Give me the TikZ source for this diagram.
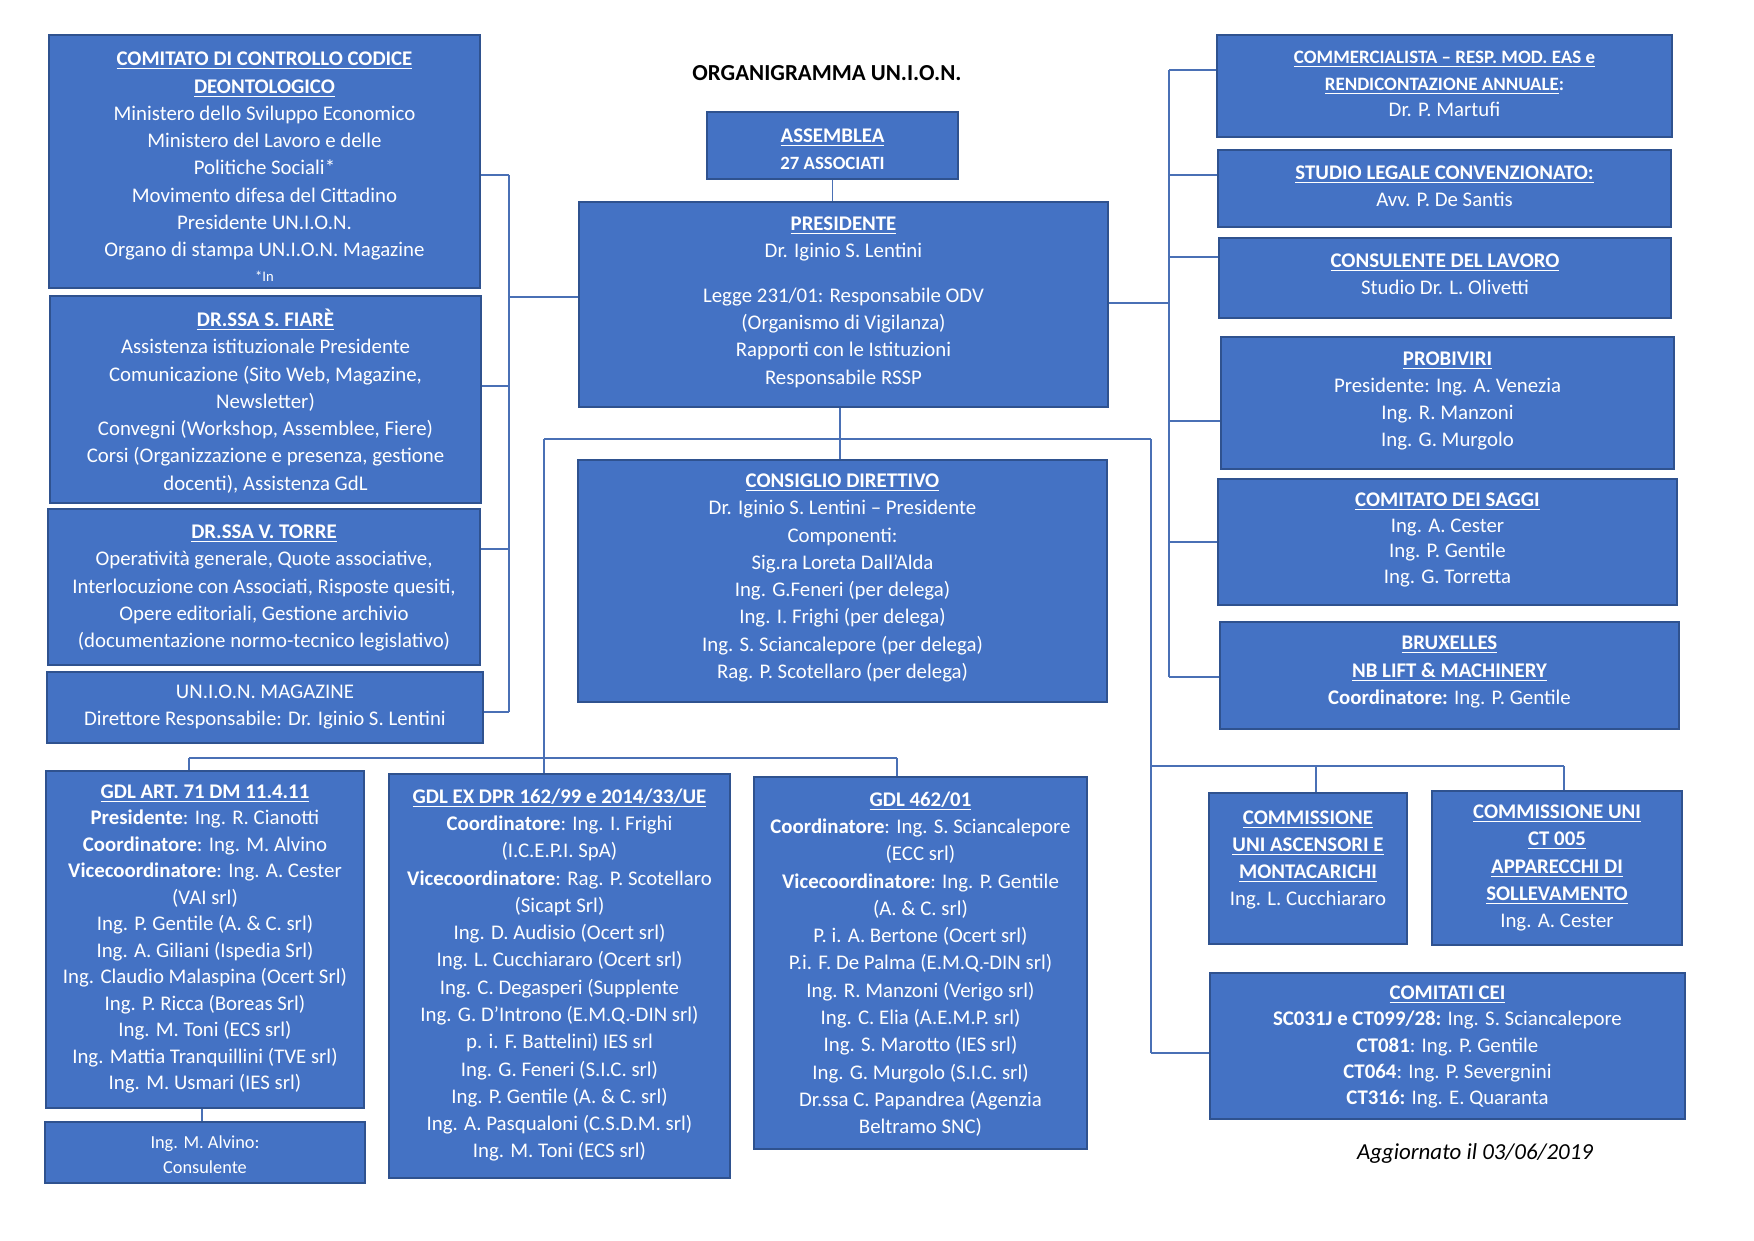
\documentclass[tikz,border=0pt]{standalone}
\usepackage{fontspec}
\setmainfont{Carlito}
\usetikzlibrary{fit}
\definecolor{boxblue}{HTML}{4472C4}
\definecolor{boxborder}{HTML}{2F528F}
\definecolor{connblue}{HTML}{4A70B5}
\newcommand\ulh[1]{\underline{\raisebox{0pt}[\height][0pt]{\bfseries #1}}}
\newcommand\orgbox[8][]{%
  \node[orgrect, fit={(#3,#4) (#5,#6)}] (#2) {};
  \node[orgtxt,#1] (#2-t) at ({(#3+#5)/2},#7) {#8};}
\tikzset{
  orgrect/.style={draw=boxborder, line width=1pt, fill=boxblue, inner sep=0pt},
  orgtxt/.style={text=white, align=center, inner sep=0pt,
    font=\fontsize{10}{13.1}\selectfont},
  conn/.style={draw=connblue, line width=0.6pt},
}
\begin{document}
\begin{tikzpicture}[x=0.48pt,y=-0.48pt]
\useasboundingbox[fill=white] (0,0) rectangle (1754,1241);

% title
\node[font=\bfseries\fontsize{11}{13}\selectfont] (title) at (827,73) {ORGANIGRAMMA UN.I.O.N.};

% left column
\orgbox{comitato}{49}{35}{480}{288}{167}{\ulh{COMITATO DI CONTROLLO CODICE}\\
\ulh{DEONTOLOGICO}\\
Ministero dello Sviluppo Economico\\
Ministero del Lavoro e delle\\
Politiche Sociali*\\
Movimento difesa del Cittadino\\
Presidente UN.I.O.N.\\
Organo di stampa UN.I.O.N. Magazine\\[-1pt]
{\fontsize{7}{8}\selectfont *In}}

\orgbox{fiare}{50}{296}{481}{503}{401}{\ulh{DR.SSA S. FIARÈ}\\
Assistenza istituzionale Presidente\\
Comunicazione (Sito Web, Magazine,\\
Newsletter)\\
Convegni (Workshop, Assemblee, Fiere)\\
Corsi (Organizzazione e presenza, gestione\\
docenti), Assistenza GdL}

\orgbox{torre}{48}{509}{480}{665}{588}{\ulh{DR.SSA V. TORRE}\\
Operatività generale, Quote associative,\\
Interlocuzione con Associati, Risposte quesiti,\\
Opere editoriali, Gestione archivio\\
(documentazione normo-tecnico legislativo)}

\orgbox{magazine}{47}{672}{483}{743}{707}{UN.I.O.N. MAGAZINE\\
Direttore Responsabile: Dr. Iginio S. Lentini}

% centre column
\orgbox{assemblea}{707}{112}{958}{179}{149}{\ulh{ASSEMBLEA}\\
{\bfseries\fontsize{9}{11}\selectfont 27 ASSOCIATI}}

\orgbox{pres}{579}{202}{1108}{407}{302}{\ulh{PRESIDENTE}\\
Dr. Iginio S. Lentini\\[8.5pt]
Legge 231/01: Responsabile ODV\\
(Organismo di Vigilanza)\\
Rapporti con le Istituzioni\\
Responsabile RSSP}

\orgbox{cons}{578}{460}{1107}{702}{578}{\ulh{CONSIGLIO DIRETTIVO}\\
Dr. Iginio S. Lentini – Presidente\\
Componenti:\\
Sig.ra Loreta Dall’Alda\\
Ing. G.Feneri (per delega)\\
Ing. I. Frighi (per delega)\\
Ing. S. Sciancalepore (per delega)\\
Rag. P. Scotellaro (per delega)}

% right column
\orgbox[font=\fontsize{9.1}{12.8}\selectfont]{comm}{1217}{35}{1672}{137}{84}{\ulh{COMMERCIALISTA – RESP. MOD. EAS e}\\
\ulh{RENDICONTAZIONE ANNUALE}\textbf{:}\\
\fontsize{10}{13.1}\selectfont Dr. P. Martufi}

\orgbox{legale}{1218}{150}{1671}{227}{186}{\ulh{STUDIO LEGALE CONVENZIONATO:}\\
Avv. P. De Santis}

\orgbox{lavoro}{1219}{238}{1671}{318}{274}{\ulh{CONSULENTE DEL LAVORO}\\
Studio Dr. L. Olivetti}

\orgbox{probiviri}{1221}{337}{1674}{469}{401}{\ulh{PROBIVIRI}\\
Presidente: Ing. A. Venezia\\
Ing. R. Manzoni\\
Ing. G. Murgolo}

\orgbox[font=\fontsize{10}{12.2}\selectfont]{saggi}{1218}{479}{1677}{605}{540}{\ulh{COMITATO DEI SAGGI}\\
Ing. A. Cester\\
Ing. P. Gentile\\
Ing. G. Torretta}

\orgbox{brux}{1220}{622}{1679}{729}{672}{\ulh{BRUXELLES}\\
\ulh{NB LIFT \& MACHINERY}\\
\textbf{Coordinatore:} Ing. P. Gentile}

% bottom row
\orgbox[font=\fontsize{10}{12.7}\selectfont]{gdla}{46}{771}{364}{1108}{939}{\ulh{GDL ART. 71 DM 11.4.11}\\
\textbf{Presidente}: Ing. R. Cianotti\\
\textbf{Coordinatore}: Ing. M. Alvino\\
\textbf{Vicecoordinatore}: Ing. A. Cester\\
(VAI srl)\\
Ing. P. Gentile (A. \& C. srl)\\
Ing. A. Giliani (Ispedia Srl)\\
Ing. Claudio Malaspina (Ocert Srl)\\
Ing. P. Ricca (Boreas Srl)\\
Ing. M. Toni (ECS srl)\\
Ing. Mattia Tranquillini (TVE srl)\\
Ing. M. Usmari (IES srl)}

\orgbox[font=\fontsize{8.8}{12}\selectfont]{alvino}{45}{1122}{365}{1183}{1155}{Ing. M. Alvino:\\
Consulente}

\orgbox{gdlb}{389}{774}{730}{1178}{975}{\ulh{GDL EX DPR 162/99 e 2014/33/UE}\\
\textbf{Coordinatore}: Ing. I. Frighi\\
(I.C.E.P.I. SpA)\\
\textbf{Vicecoordinatore}: Rag. P. Scotellaro\\
(Sicapt Srl)\\
Ing. D. Audisio (Ocert srl)\\
Ing. L. Cucchiararo (Ocert srl)\\
Ing. C. Degasperi (Supplente\\
Ing. G. D’Introno (E.M.Q.-DIN srl)\\
p. i. F. Battelini) IES srl\\
Ing. G. Feneri (S.I.C. srl)\\
Ing. P. Gentile (A. \& C. srl)\\
Ing. A. Pasqualoni (C.S.D.M. srl)\\
Ing. M. Toni (ECS srl)}

\orgbox{gdlc}{754}{777}{1087}{1149}{964}{\ulh{GDL 462/01}\\
\textbf{Coordinatore}: Ing. S. Sciancalepore\\
(ECC srl)\\
\textbf{Vicecoordinatore}: Ing. P. Gentile\\
(A. \& C. srl)\\
P. i. A. Bertone (Ocert srl)\\
P.i. F. De Palma (E.M.Q.-DIN srl)\\
Ing. R. Manzoni (Verigo srl)\\
Ing. C. Elia (A.E.M.P. srl)\\
Ing. S. Marotto (IES srl)\\
Ing. G. Murgolo (S.I.C. srl)\\
Dr.ssa C. Papandrea (Agenzia\\
Beltramo SNC)}

\orgbox{unia}{1209}{793}{1407}{944}{860}{\ulh{COMMISSIONE}\\
\ulh{UNI ASCENSORI E}\\
\ulh{MONTACARICHI}\\
Ing. L. Cucchiararo}

\orgbox{unib}{1432}{791}{1682}{945}{868}{\ulh{COMMISSIONE UNI}\\
\ulh{CT 005}\\
\ulh{APPARECCHI DI}\\
\ulh{SOLLEVAMENTO}\\
Ing. A. Cester}

\orgbox[font=\fontsize{10}{12.6}\selectfont]{cei}{1210}{973}{1685}{1119}{1047}{\ulh{COMITATI CEI}\\
\textbf{SC031J e CT099/28:} Ing. S. Sciancalepore\\
\textbf{CT081}: Ing. P. Gentile\\
\textbf{CT064}: Ing. P. Severgnini\\
\textbf{CT316:} Ing. E. Quaranta}

\node[font=\itshape\fontsize{11}{13}\selectfont] (agg) at (1475,1153) {Aggiornato il 03/06/2019};

% ---------- connectors ----------
% left bus
\coordinate (L1) at (509,175);
\coordinate (L2) at (509,386);
\coordinate (LP) at (509,297);
\coordinate (L3) at (509,549);
\coordinate (L4) at (509,712);
\draw[conn] (L1) -- (L4);
\draw[conn] (comitato.east |- L1) -- (L1);
\draw[conn] (fiare.east |- L2) -- (L2);
\draw[conn] (torre.east |- L3) -- (L3);
\draw[conn] (magazine.east |- L4) -- (L4);
\draw[conn] (LP) -- (pres.west |- LP);

% assemblea - presidente
\draw[conn] (assemblea.south) -- (assemblea.south |- pres.north);

% presidente - consiglio and lower buses
\coordinate (T) at (840,439);
\coordinate (TL) at (544,439);
\coordinate (TR) at (1151,439);
\draw[conn] (pres.south -| T) -- (cons.north -| T);
\draw[conn] (TL) -- (TR);
\draw[conn] (TL) -- (gdlb.north -| TL);
\coordinate (BL) at (189,758);
\coordinate (BR) at (897,758);
\draw[conn] (BL) -- (BR);
\draw[conn] (BL) -- (gdla.north -| BL);
\draw[conn] (BR) -- (gdlc.north -| BR);
\coordinate (AV) at (202,1115);
\draw[conn] (gdla.south -| AV) -- (alvino.north -| AV);

% right lower bus
\coordinate (CE) at (1151,1053);
\draw[conn] (TR) -- (CE);
\draw[conn] (CE) -- (cei.west |- CE);
\coordinate (RH1) at (1151,766);
\coordinate (RC1) at (1316,766);
\coordinate (RH2) at (1564,766);
\draw[conn] (RH1) -- (RH2);
\draw[conn] (RC1) -- (unia.north -| RC1);
\draw[conn] (RH2) -- (unib.north -| RH2);

% right upper bus
\coordinate (R0) at (1169,70);
\coordinate (R1) at (1169,175);
\coordinate (R2) at (1169,257);
\coordinate (RP) at (1169,303);
\coordinate (R3) at (1169,421);
\coordinate (R4) at (1169,542);
\coordinate (R6) at (1169,677);
\draw[conn] (R0) -- (R6);
\draw[conn] (pres.east |- RP) -- (RP);
\draw[conn] (R0) -- (comm.west |- R0);
\draw[conn] (R1) -- (legale.west |- R1);
\draw[conn] (R2) -- (lavoro.west |- R2);
\draw[conn] (R3) -- (probiviri.west |- R3);
\draw[conn] (R4) -- (saggi.west |- R4);
\draw[conn] (R6) -- (brux.west |- R6);
\end{tikzpicture}
\end{document}
